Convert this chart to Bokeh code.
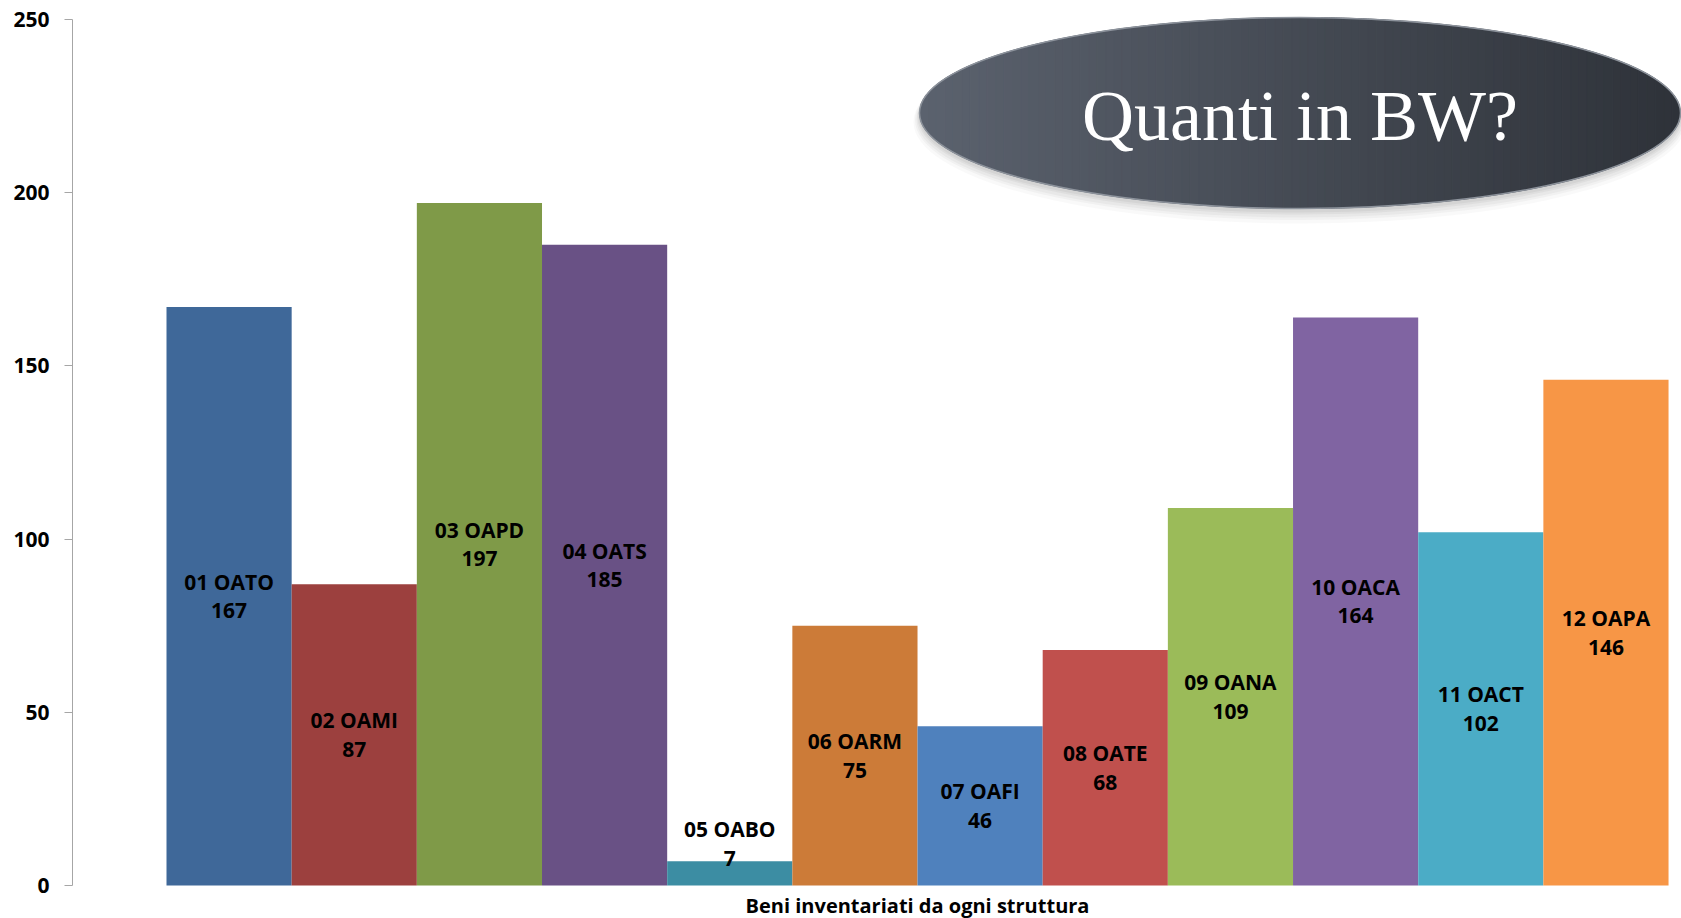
import numpy as np
from bokeh.plotting import figure
from bokeh.models import Range1d, FixedTicker, ColumnDataSource
from bokeh.core.properties import value
from bokeh.embed import file_html
from bokeh.resources import INLINE

# ---- data ----
codes = ["01 OATO", "02 OAMI", "03 OAPD", "04 OATS", "05 OABO", "06 OARM",
         "07 OAFI", "08 OATE", "09 OANA", "10 OACA", "11 OACT", "12 OAPA"]
counts = [167, 87, 197, 185, 7, 75, 46, 68, 109, 164, 102, 146]
colors = ["#3F6899", "#9C403E", "#7F9A48", "#695185", "#3C8DA3", "#CC7B38",
          "#4F81BD", "#C0504D", "#9BBB59", "#8064A2", "#4BACC6", "#F79646"]
y_ticks = [0, 50, 100, 150, 200, 250]
x_title = "Beni inventariati da ogni struttura"
bubble_text = "Quanti in BW?"

# ---- layout (screen pixels) ----
W, H = 1681, 918
BL = 72                      # frame left (axis line)
FW = W - BL
Y0_PX, Y250_PX = 885, 19     # screen rows of y=0 and y=250
ppy = (Y0_PX - Y250_PX) / 250.0
BAR_PX = 125.17
GAP_PX = 94
x_start = -0.5 - GAP_PX / BAR_PX
x_end = x_start + FW / BAR_PX
y_top = 250 + Y250_PX / ppy
y_bot = -(H - Y0_PX) / ppy

def sx(px):      # screen x -> data x
    return x_start + (px - BL) / BAR_PX

def sy(py):      # screen y -> data y
    return (Y0_PX - py) / ppy

p = figure(width=W, height=H, output_backend="svg", toolbar_location=None,
           x_range=Range1d(x_start, x_end), y_range=Range1d(y_bot, y_top),
           min_border_left=BL, min_border_top=0, min_border_bottom=0,
           min_border_right=0)
p.outline_line_color = None
p.grid.visible = False
p.xaxis.visible = False
p.background_fill_color = "white"
p.border_fill_color = "white"

ya = p.yaxis[0]
ya.ticker = FixedTicker(ticks=y_ticks)
ya.bounds = (0, 250)
ya.minor_tick_line_color = None
ya.major_tick_in = 0
ya.major_tick_out = 8
ya.axis_line_color = "#A6A6A6"
ya.major_tick_line_color = "#A6A6A6"
ya.major_label_text_font = "Open Sans"
ya.major_label_text_font_style = "bold"
ya.major_label_text_font_size = "21px"
ya.major_label_text_color = "black"
ya.major_label_standoff = 15

xs = list(range(len(codes)))
label_y = [max(v / 2, 12.0) for v in counts]
src = ColumnDataSource(dict(x=xs, top=counts, color=colors, code=codes,
                            val=[str(v) for v in counts], ly=label_y))
p.vbar(x="x", top="top", bottom=0, width=1.0, fill_color="color",
       line_color=None, source=src)
for col, off in (("code", 14.5), ("val", -14.5)):
    p.text(x="x", y="ly", text=col, source=src, y_offset=-off,
           text_align="center", text_baseline="middle",
           text_font=value("Open Sans"), text_font_style="bold",
           text_font_size="21px", text_color="black")

# ---- bubble (ellipse with gradient + soft shadow) ----
cx_px, cy_px = 1299.5, 112.5
a_px, b_px = 380.5, 95.5
ecx, ecy = sx(cx_px), sy(cy_px)

for dy, grow, al in [(9, 12, 0.04), (7, 9, 0.05), (6, 6, 0.06),
                     (4, 4, 0.07), (3, 2, 0.08)]:
    p.ellipse(x=[ecx], y=[sy(cy_px + dy)], width=2 * a_px + grow,
              height=2 * b_px + grow, width_units="screen",
              height_units="screen", fill_color="#606060", fill_alpha=al,
              line_color=None)

def hex2rgb(h):
    return np.array([int(h[i:i + 2], 16) for i in (1, 3, 5)], dtype=float)

c_left, c_right = hex2rgb("#5B626E"), hex2rgb("#2E3239")
N = 90
edges = np.linspace(-a_px, a_px, N + 1)
pxs, pys, fills = [], [], []
for i in range(N):
    u = np.linspace(edges[i], edges[i + 1], 6)
    h = b_px * np.sqrt(np.clip(1 - (u / a_px) ** 2, 0, 1))
    px_pts = np.concatenate([u, u[::-1]])
    py_pts = np.concatenate([cy_px - h, (cy_px + h)[::-1]])
    pxs.append(list(sx(cx_px + px_pts)))
    pys.append(list(sy(py_pts)))
    t = (i + 0.5) / N
    c = (1 - t) * c_left + t * c_right
    fills.append("#%02x%02x%02x" % tuple(int(round(v)) for v in c))
p.patches(xs=pxs, ys=pys, fill_color=fills, line_color=fills, line_width=1)
p.ellipse(x=[ecx], y=[ecy], width=2 * a_px, height=2 * b_px,
          width_units="screen", height_units="screen", fill_color=None,
          line_color="#8C929B", line_width=1.5)
p.text(x=[ecx], y=[sy(115.5)], text=[bubble_text], text_align="center",
       text_baseline="middle", text_font=value("Liberation Serif"),
       text_font_size="72px", text_color="white")

# ---- x title ----
p.text(x=[sx(917)], y=[sy(905)], text=[x_title], text_align="center",
       text_baseline="middle", text_font=value("Open Sans"),
       text_font_style="bold", text_font_size="20px", text_color="black")

open("out.html", "w").write(file_html(p, INLINE))
